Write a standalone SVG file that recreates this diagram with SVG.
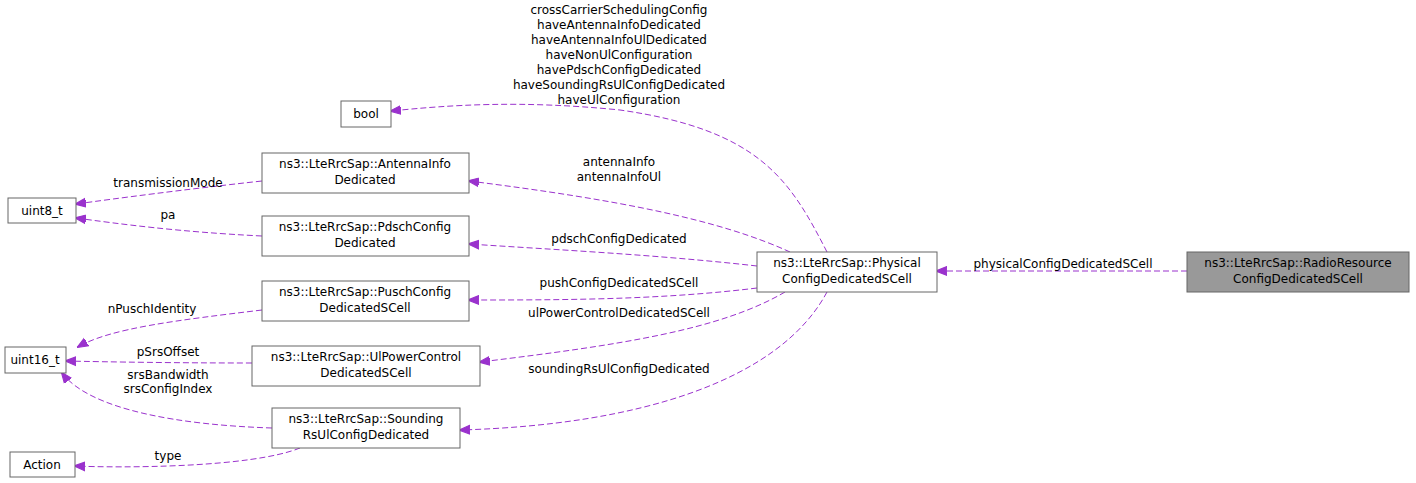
<svg xmlns="http://www.w3.org/2000/svg" width="1416" height="483" viewBox="0 0 1416 483">
<style>
text{font-family:"DejaVu Sans","Liberation Sans",sans-serif;font-size:12px;fill:#000}
.n rect{fill:#fff;stroke:#666;stroke-width:1}
.n text{text-anchor:middle}
.e path{fill:none;stroke:#9a32cd;stroke-dasharray:6,3;stroke-width:1;marker-end:url(#a)}
.l{text-anchor:middle}
</style>
<defs><marker id="a" viewBox="0 0 10 10" refX="9" refY="5" markerWidth="11" markerHeight="11" orient="auto" markerUnits="userSpaceOnUse"><path d="M10,1 L0,5 L10,9 Z" transform="rotate(180 5 5)" fill="#9a32cd" stroke="#9a32cd"/></marker></defs>
<rect width="1416" height="483" fill="#fff"/>
<g id="connectors" class="e">
<path d="M827,252 C790,180 760,130 620,110 C520,100 450,105 391,111"/>
<path d="M790,252 C720,220 620,200 469,181"/>
<path d="M757,266 C660,255 560,250 469,244"/>
<path d="M757,288 C660,300 560,300 469,300"/>
<path d="M785,292 C720,330 620,345 480,362"/>
<path d="M827,292 C780,380 640,425 460,430"/>
<path d="M1187,271 L937,271"/>
<path d="M262,181 C180,190 120,198 76,204"/>
<path d="M262,236 C180,232 120,224 76,218"/>
<path d="M262,310 C180,320 110,328 78,347"/>
<path d="M252,363 C180,363 110,362 66,361"/>
<path d="M272,428 C180,425 90,410 62,373"/>
<path d="M300,448 C250,468 120,468 75,466"/>
</g>
<g id="labels">
<text class="l" x="619" y="14">crossCarrierSchedulingConfig</text>
<text class="l" x="619" y="29">haveAntennaInfoDedicated</text>
<text class="l" x="619" y="44">haveAntennaInfoUlDedicated</text>
<text class="l" x="619" y="59">haveNonUlConfiguration</text>
<text class="l" x="619" y="74">havePdschConfigDedicated</text>
<text class="l" x="619" y="89">haveSoundingRsUlConfigDedicated</text>
<text class="l" x="619" y="104">haveUlConfiguration</text>
<text class="l" x="619" y="166">antennaInfo</text>
<text class="l" x="619" y="181">antennaInfoUl</text>
<text class="l" x="619" y="243">pdschConfigDedicated</text>
<text class="l" x="619" y="287">pushConfigDedicatedSCell</text>
<text class="l" x="619" y="317">ulPowerControlDedicatedSCell</text>
<text class="l" x="619" y="373">soundingRsUlConfigDedicated</text>
<text class="l" x="1063" y="268">physicalConfigDedicatedSCell</text>
<text class="l" x="168" y="187">transmissionMode</text>
<text class="l" x="168" y="219">pa</text>
<text class="l" x="152" y="313">nPuschIdentity</text>
<text class="l" x="168" y="356">pSrsOffset</text>
<text class="l" x="168" y="379">srsBandwidth</text>
<text class="l" x="168" y="393">srsConfigIndex</text>
<text class="l" x="168" y="460">type</text>
</g>
<g id="bool" class="n"><rect x="341" y="101" width="50" height="26"/><text x="366" y="118">bool</text></g>
<g id="uint8_t" class="n"><rect x="8" y="198" width="68" height="25"/><text x="42" y="215">uint8_t</text></g>
<g id="uint16_t" class="n"><rect x="5" y="347" width="61" height="26"/><text x="35" y="364">uint16_t</text></g>
<g id="Action" class="n"><rect x="10" y="452" width="65" height="25"/><text x="42" y="469">Action</text></g>
<g id="AntennaInfo" class="n"><rect x="262" y="153" width="207" height="40"/><text x="365" y="168">ns3::LteRrcSap::AntennaInfo</text><text x="365" y="184">Dedicated</text></g>
<g id="Pdsch" class="n"><rect x="262" y="216" width="207" height="40"/><text x="365" y="231">ns3::LteRrcSap::PdschConfig</text><text x="365" y="247">Dedicated</text></g>
<g id="Pusch" class="n"><rect x="262" y="281" width="207" height="40"/><text x="365" y="296">ns3::LteRrcSap::PuschConfig</text><text x="365" y="312">DedicatedSCell</text></g>
<g id="UlPower" class="n"><rect x="252" y="346" width="228" height="40"/><text x="366" y="361">ns3::LteRrcSap::UlPowerControl</text><text x="366" y="377">DedicatedSCell</text></g>
<g id="Sounding" class="n"><rect x="272" y="408" width="188" height="40"/><text x="366" y="423">ns3::LteRrcSap::Sounding</text><text x="366" y="439">RsUlConfigDedicated</text></g>
<g id="Physical" class="n"><rect x="757" y="252" width="180" height="40"/><text x="847" y="267">ns3::LteRrcSap::Physical</text><text x="847" y="283">ConfigDedicatedSCell</text></g>
<g id="RadioResource" class="n"><rect x="1187" y="252" width="222" height="40" style="fill:#999"/><text x="1298" y="267">ns3::LteRrcSap::RadioResource</text><text x="1298" y="283">ConfigDedicatedSCell</text></g>
</svg>
